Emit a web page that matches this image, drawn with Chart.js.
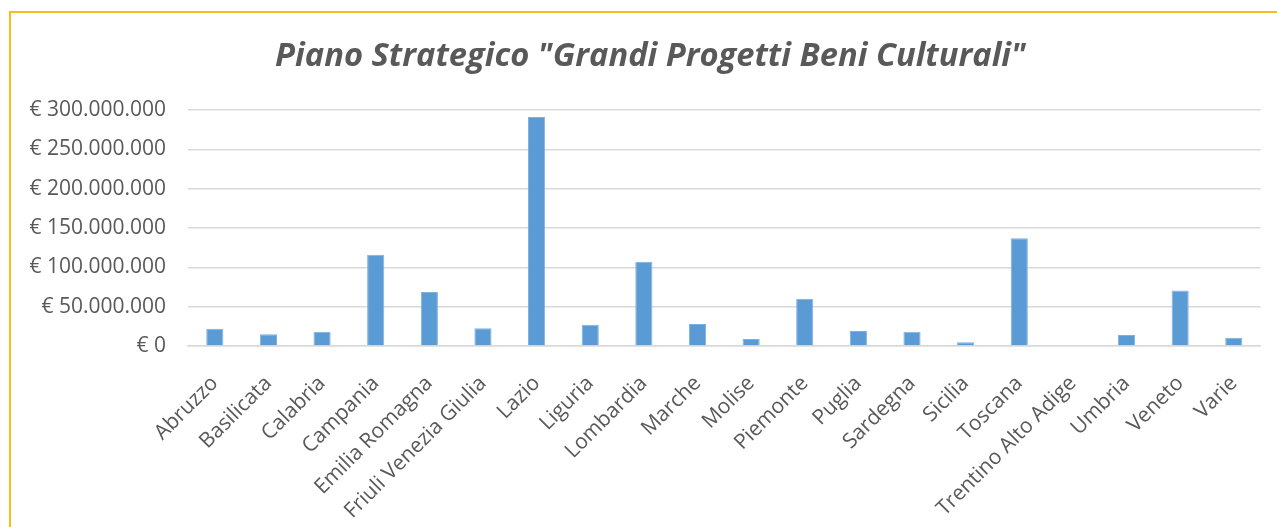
<!DOCTYPE html>
<html>
<head>
<meta charset="utf-8">
<script src="https://cdn.jsdelivr.net/npm/chart.js@4.4.1/dist/chart.umd.min.js"></script>
<style>
  html, body { margin: 0; padding: 0; background: #ffffff; }
  #wrap { position: relative; width: 1277px; height: 527px; overflow: hidden; }
  #c { position: absolute; left: 0; top: 0; }
  #frame { position: absolute; left: 9px; top: 11px; width: 1280px; height: 530px;
           border-left: 2px solid #F4BF1E; border-top: 2px solid #F4BF1E; pointer-events: none; }
</style>
</head>
<body>
<div id="wrap">
  <canvas id="c" width="1277" height="527"></canvas>
  <div id="frame"></div>
</div>
<script>
const chartTitle = 'Piano Strategico "Grandi Progetti Beni Culturali"';
const regions = ["Abruzzo", "Basilicata", "Calabria", "Campania", "Emilia Romagna",
  "Friuli Venezia Giulia", "Lazio", "Liguria", "Lombardia", "Marche", "Molise",
  "Piemonte", "Puglia", "Sardegna", "Sicilia", "Toscana", "Trentino Alto Adige",
  "Umbria", "Veneto", "Varie"];
const amounts = [22000000, 15000000, 18000000, 116000000, 68500000,
  22500000, 291000000, 27000000, 107000000, 28000000, 9000000,
  60000000, 19000000, 18000000, 4700000, 137000000, 0,
  14000000, 70500000, 10500000];
const yMin = 0, yMax = 300000000, yStep = 50000000;

function euro(v) {
  return '€ ' + String(Math.round(v)).replace(/\B(?=(\d{3})+(?!\d))/g, '.');
}

const FONT = "'Open Sans', sans-serif";
const TXT = '#595959';

const shiftTitle = {
  id: 'shiftTitle',
  afterLayout(chart) {
    if (chart.titleBlock) { chart.titleBlock.left = 40; }
  }
};

new Chart(document.getElementById('c'), {
  type: 'bar',
  data: {
    labels: regions,
    datasets: [{
      data: amounts,
      backgroundColor: '#5B9BD5',
      borderColor: '#7FB1E0',
      borderWidth: 1,
      categoryPercentage: 1,
      barPercentage: 0.32
    }]
  },
  plugins: [shiftTitle],
  options: {
    responsive: false,
    animation: false,
    layout: { padding: { left: 0, right: 16, top: 0, bottom: 0 } },
    plugins: {
      legend: { display: false },
      tooltip: { enabled: false },
      title: {
        display: true,
        text: chartTitle,
        color: TXT,
        font: { family: FONT, size: 32.7, weight: 'bold', style: 'italic' },
        padding: { top: 37.5, bottom: 33.3 }
      }
    },
    scales: {
      x: {
        grid: { display: false, drawTicks: false },
        border: { color: '#D9D9D9', width: 1.5 },
        ticks: {
          color: TXT,
          font: { family: FONT, size: 21 },
          minRotation: 45, maxRotation: 45,
          autoSkip: false,
          padding: 25
        },
        afterFit: (s) => { s.height = 527 - 346; }
      },
      y: {
        min: yMin, max: yMax,
        grid: { color: '#D9D9D9', lineWidth: 1.5, drawTicks: false },
        border: { display: false },
        ticks: {
          stepSize: yStep,
          color: TXT,
          font: { family: FONT, size: 21 },
          padding: 22,
          callback: (v) => euro(v)
        },
        afterFit: (s) => { s.width = 188; }
      }
    }
  }
});
</script>
</body>
</html>
